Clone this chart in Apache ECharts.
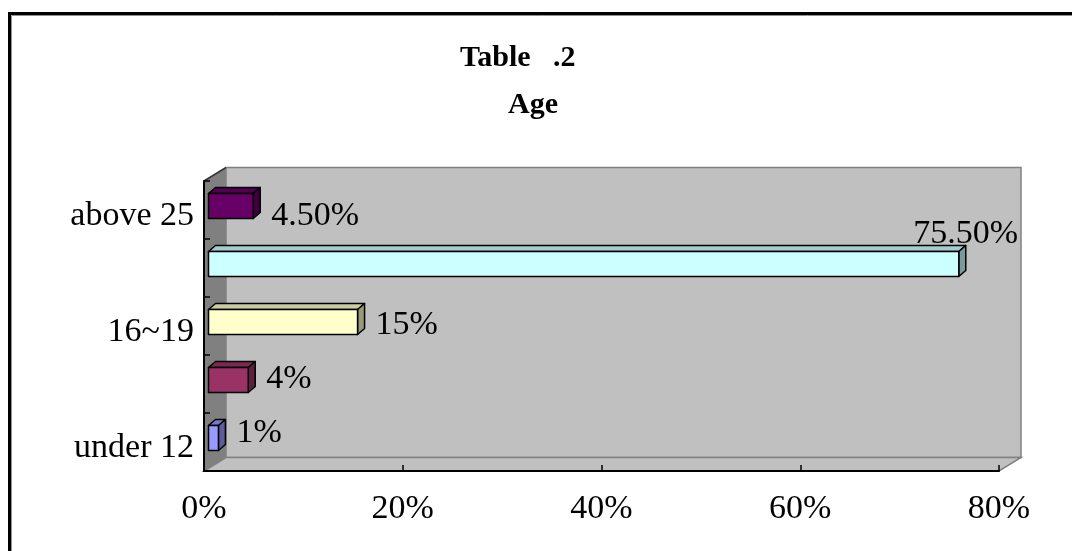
<!DOCTYPE html>
<html>
<head>
<meta charset="utf-8">
<script src="https://cdn.jsdelivr.net/npm/echarts@6/dist/echarts.min.js"></script>
<style>
  html, body { margin: 0; padding: 0; background: #fff; }
  #chart { width: 1072px; height: 551px; }
</style>
</head>
<body>
<div id="chart"></div>
<script>
// Age groups, bottom to top, and their share of respondents (%)
const categories = ['under 12', '12~15', '16~19', '20~25', 'above 25'];
const shares = [1, 4, 15, 75.5, 4.5];
const barColors = ['#9999ff', '#993366', '#ffffcc', '#ccffff', '#660066'];
const xTicks = [0, 20, 40, 60, 80];
const titleLine1 = 'Table   .2';
const titleLine2 = 'Age';

const FONT = '"Liberation Serif", "Times New Roman", serif';
const WALL = [22, -13.5];     // depth of floor and back wall
const BAR_SHIFT = [4.5, -4];  // bars stand a little behind the axis plane
const BAR_DEPTH = [7, -6];    // depth of each box
const BAR_H = 25;             // height of a box's front face
const LABEL_SPREAD = 0.065;   // value labels drift outward from the plot's middle (perspective)

const measureCtx = document.createElement('canvas').getContext('2d');
function textWidth(str, font) { measureCtx.font = font; return measureCtx.measureText(str).width; }

function shade(hex, k) {
  const n = parseInt(hex.slice(1), 16);
  const r = Math.round(((n >> 16) & 255) * k), g = Math.round(((n >> 8) & 255) * k), b = Math.round((n & 255) * k);
  return 'rgb(' + r + ',' + g + ',' + b + ')';
}
function pctLabel(v) { return (Number.isInteger(v) ? String(v) : v.toFixed(2)) + '%'; }

// Side wall, back wall and floor of the 3-D plot box
function renderWalls(params, api) {
  const n = categories.length;
  const band = api.size([0, 1])[1];
  const pL = api.coord([xTicks[0], 0]);
  const pR = api.coord([xTicks[xTicks.length - 1], n - 1]);
  const x0 = pL[0], x1 = pR[0];
  const yB = pL[1] + band / 2, yT = pR[1] - band / 2;
  const dx = WALL[0], dy = WALL[1];
  return {
    type: 'group',
    children: [
      { type: 'polygon', shape: { points: [[x0 + dx, yT + dy], [x1 + dx, yT + dy], [x1 + dx, yB + dy], [x0 + dx, yB + dy]] },
        style: { fill: '#c0c0c0', stroke: '#808080', lineWidth: 1.5 } },
      { type: 'polygon', shape: { points: [[x0, yB], [x1, yB], [x1 + dx, yB + dy], [x0 + dx, yB + dy]] },
        style: { fill: '#c0c0c0', stroke: '#808080', lineWidth: 1.5 } },
      { type: 'polygon', shape: { points: [[x0, yT], [x0 + dx, yT + dy], [x0 + dx, yB + dy], [x0, yB]] },
        style: { fill: '#808080' } },
      { type: 'polyline', shape: { points: [[x0, yT], [x0 + dx, yT + dy]] },
        style: { stroke: '#333', lineWidth: 1.5 } }
    ]
  };
}

// One 3-D box per age group plus its value label
function renderBar(params, api) {
  const v = api.value(0), idx = api.value(1);
  const base = api.coord([0, idx]), end = api.coord([v, idx]);
  const sx = BAR_SHIFT[0], sy = BAR_SHIFT[1], dx = BAR_DEPTH[0], dy = BAR_DEPTH[1];
  const xa = base[0] + sx, xb = end[0] + sx;
  const yt = base[1] + sy - BAR_H / 2, yb = yt + BAR_H;
  const c = barColors[idx];
  const edge = { stroke: '#000', lineWidth: 1.5, lineJoin: 'round' };

  const font = '34px ' + FONT;
  const text = pctLabel(v);
  const wallRight = api.coord([xTicks[xTicks.length - 1], idx])[0] + WALL[0];
  const midY = (api.coord([0, 0])[1] + api.coord([0, categories.length - 1])[1]) / 2;
  const gap = 11;
  let label;
  if (xb + dx + gap + textWidth(text, font) > wallRight) {
    label = { type: 'text', x: xb + dx, y: yt + dy + 6,
      style: { text: text, font: font, fill: '#000', align: 'center', verticalAlign: 'bottom' } };
  } else {
    const ly = base[1] - 1 + (midY - base[1]) * LABEL_SPREAD;
    label = { type: 'text', x: xb + dx + gap, y: ly,
      style: { text: text, font: font, fill: '#000', align: 'left', verticalAlign: 'middle' } };
  }

  return {
    type: 'group',
    children: [
      { type: 'polygon', shape: { points: [[xa, yt], [xa + dx, yt + dy], [xb + dx, yt + dy], [xb, yt]] },
        style: Object.assign({ fill: shade(c, 0.8) }, edge) },
      { type: 'polygon', shape: { points: [[xb, yt], [xb + dx, yt + dy], [xb + dx, yb + dy], [xb, yb]] },
        style: Object.assign({ fill: shade(c, 0.6) }, edge) },
      { type: 'rect', shape: { x: xa, y: yt, width: xb - xa, height: BAR_H },
        style: Object.assign({ fill: c }, edge) },
      label
    ]
  };
}

const chart = echarts.init(document.getElementById('chart'), null, { renderer: 'canvas' });
chart.setOption({
  animation: false,
  backgroundColor: '#ffffff',
  title: [
    { text: titleLine1, left: 460, top: 43, padding: 0,
      textStyle: { fontFamily: FONT, fontSize: 30, fontWeight: 'bold', color: '#000' } },
    { text: titleLine2, left: 508, top: 90, padding: 0,
      textStyle: { fontFamily: FONT, fontSize: 30, fontWeight: 'bold', color: '#000' } }
  ],
  graphic: [
    { type: 'rect', silent: true, z: 0, shape: { x: 11.5, y: 15.5, width: 1200, height: 700 },
      style: { fill: null, stroke: '#909090', lineWidth: 1 } },
    { type: 'rect', silent: true, z: 0, shape: { x: 9.5, y: 13.5, width: 1200, height: 700 },
      style: { fill: null, stroke: '#000', lineWidth: 3 } }
  ],
  grid: { left: 204, right: 73, top: 181, bottom: 80 },
  xAxis: {
    type: 'value', min: xTicks[0], max: xTicks[xTicks.length - 1], interval: 20, z: 3,
    axisLine: { show: true, lineStyle: { color: '#000', width: 2 } },
    axisTick: { show: true, inside: true, length: 6, lineStyle: { color: '#000', width: 1.5 } },
    splitLine: { show: false },
    axisLabel: { formatter: '{value}%', margin: 21, fontFamily: FONT, fontSize: 34, color: '#000' }
  },
  yAxis: {
    type: 'category', data: categories, z: 3,
    axisLine: { show: true, lineStyle: { color: '#000', width: 2 } },
    axisTick: { show: true, inside: true, length: 6, interval: 0, lineStyle: { color: '#000', width: 1.5 } },
    axisLabel: {
      interval: 1, margin: 10, fontFamily: FONT, fontSize: 34, color: '#000',
      formatter: '{lbl|{value}}',
      rich: { lbl: { fontFamily: FONT, fontSize: 34, color: '#000', padding: [12, 0, 0, 0] } }
    },
    splitLine: { show: false }
  },
  series: [
    { type: 'custom', z: 1, silent: true, renderItem: renderWalls,
      data: [[0, 0]], encode: { x: 0, y: 1 } },
    { type: 'custom', z: 5, silent: true, renderItem: renderBar,
      data: shares.map((v, i) => [v, i]), encode: { x: 0, y: 1 } }
  ]
});
</script>
</body>
</html>
